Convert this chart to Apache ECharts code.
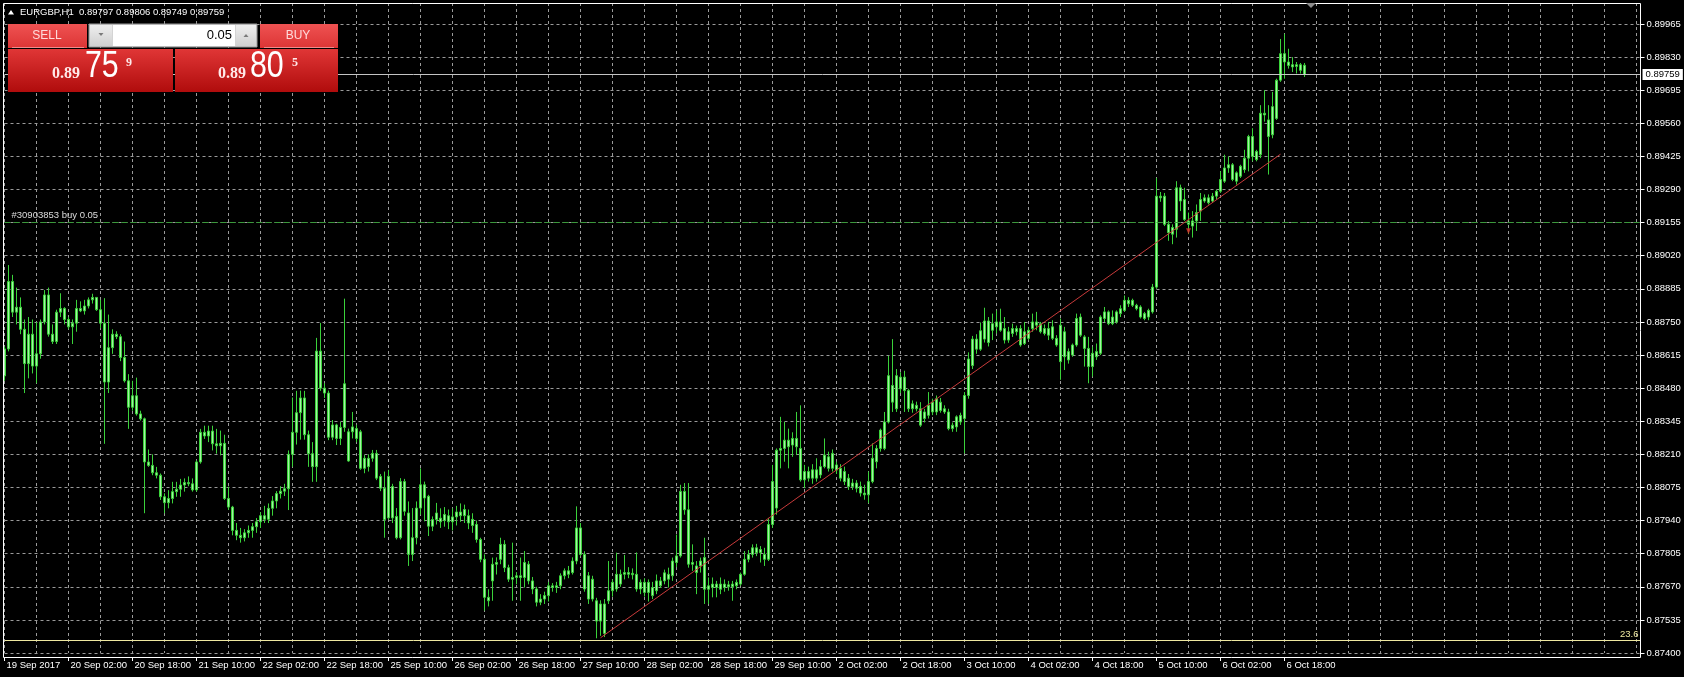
<!DOCTYPE html>
<html><head><meta charset="utf-8">
<script src="https://cdn.jsdelivr.net/npm/echarts@6/dist/echarts.min.js"></script>
<style>html,body{margin:0;padding:0;background:#000;}#chart{width:1684px;height:677px;}</style>
</head><body><div id="chart"></div>
<script>
// ---- EURGBP H1 bars, one array per trading day: [open, close, low, high] ----
const sep19 = [
[0.88530,0.88640,0.88510,0.88650],[0.88640,0.88915,0.88630,0.88982],[0.88915,0.88790,0.88770,0.88942],[0.88790,0.88810,0.88740,0.88890],
[0.88810,0.88720,0.88700,0.88850],[0.88720,0.88580,0.88460,0.88760],[0.88580,0.88700,0.88520,0.88770],[0.88700,0.88570,0.88540,0.88760],
[0.88570,0.88620,0.88500,0.88750],[0.88620,0.88750,0.88600,0.88760],[0.88750,0.88860,0.88740,0.88880],[0.88860,0.88700,0.88690,0.88890],
[0.88700,0.88670,0.88660,0.88740],[0.88670,0.88790,0.88660,0.88800]];
const sep20 = [
[0.88790,0.88805,0.88770,0.88867],[0.88805,0.88760,0.88740,0.88810],[0.88760,0.88730,0.88720,0.88770],[0.88730,0.88745,0.88660,0.88760],
[0.88745,0.88805,0.88710,0.88840],[0.88805,0.88795,0.88790,0.88834],[0.88795,0.88815,0.88780,0.88840],[0.88815,0.88840,0.88805,0.88850],
[0.88840,0.88850,0.88825,0.88865],[0.88850,0.88800,0.88795,0.88850],[0.88800,0.88745,0.88725,0.88840],[0.88745,0.88505,0.88253,0.88847],
[0.88505,0.88645,0.88460,0.88780],[0.88645,0.88700,0.88620,0.88720],[0.88700,0.88690,0.88680,0.88712],[0.88690,0.88605,0.88590,0.88700],
[0.88605,0.88510,0.88503,0.88670],[0.88510,0.88402,0.88314,0.88537],[0.88402,0.88449,0.88388,0.88510],[0.88449,0.88375,0.88368,0.88523],
[0.88375,0.88355,0.88348,0.88388],[0.88355,0.88179,0.87970,0.88360],[0.88179,0.88165,0.88159,0.88230],[0.88165,0.88135,0.88125,0.88210]];
const sep21 = [
[0.88135,0.88125,0.88112,0.88159],[0.88125,0.88037,0.88024,0.88132],[0.88037,0.88013,0.87970,0.88051],[0.88013,0.88030,0.87990,0.88064],
[0.88030,0.88058,0.88010,0.88098],[0.88058,0.88068,0.88037,0.88098],[0.88068,0.88085,0.88037,0.88110],[0.88085,0.88095,0.88058,0.88112],
[0.88095,0.88090,0.88080,0.88120],[0.88090,0.88065,0.88058,0.88112],[0.88065,0.88179,0.88058,0.88185],[0.88179,0.88300,0.88172,0.88314],
[0.88300,0.88285,0.88273,0.88327],[0.88285,0.88305,0.88260,0.88327],[0.88305,0.88253,0.88226,0.88327],[0.88253,0.88245,0.88213,0.88314],
[0.88245,0.88255,0.88206,0.88307],[0.88255,0.88030,0.88024,0.88290],[0.88030,0.87995,0.87983,0.88078],[0.87995,0.87900,0.87880,0.88000],
[0.87900,0.87880,0.87860,0.87930],[0.87880,0.87870,0.87850,0.87910],[0.87870,0.87890,0.87855,0.87905],[0.87890,0.87900,0.87870,0.87920]];
const sep22 = [
[0.87900,0.87915,0.87870,0.87930],[0.87915,0.87935,0.87890,0.87950],[0.87935,0.87960,0.87910,0.87975],[0.87960,0.87945,0.87930,0.88000],
[0.87945,0.87990,0.87930,0.88010],[0.87990,0.88020,0.87960,0.88040],[0.88020,0.88050,0.87990,0.88060],[0.88050,0.88060,0.88030,0.88080],
[0.88060,0.88070,0.88040,0.88090],[0.88070,0.88210,0.87983,0.88226],[0.88210,0.88300,0.88159,0.88442],[0.88300,0.88380,0.88250,0.88469],
[0.88380,0.88440,0.88270,0.88470],[0.88440,0.88290,0.88270,0.88469],[0.88290,0.88213,0.88159,0.88307],[0.88213,0.88160,0.88098,0.88260],
[0.88160,0.88631,0.88098,0.88685],[0.88631,0.88480,0.88469,0.88746],[0.88480,0.88460,0.88440,0.88500],[0.88460,0.88280,0.88268,0.88470],
[0.88280,0.88330,0.88268,0.88350],[0.88330,0.88275,0.88248,0.88335],[0.88275,0.88320,0.88248,0.88342],[0.88320,0.88498,0.88302,0.88845]];
const sep25 = [
[0.88302,0.88183,0.88180,0.88315],[0.88302,0.88322,0.88275,0.88383],[0.88315,0.88275,0.88260,0.88330],[0.88302,0.88153,0.88147,0.88310],
[0.88153,0.88194,0.88133,0.88207],[0.88194,0.88160,0.88140,0.88210],[0.88194,0.88214,0.88180,0.88228],[0.88214,0.88113,0.88105,0.88228],
[0.88120,0.88072,0.88060,0.88130],[0.88072,0.87944,0.87870,0.88140],[0.87951,0.88120,0.87944,0.88147],[0.88079,0.87951,0.87930,0.88090],
[0.87957,0.87870,0.87863,0.87991],[0.87870,0.88099,0.87863,0.88113],[0.88099,0.87978,0.87960,0.88110],[0.87971,0.87802,0.87755,0.88018],
[0.87802,0.87870,0.87775,0.87991],[0.87870,0.87991,0.87843,0.88018],[0.87991,0.88086,0.87964,0.88153],[0.88086,0.88032,0.87937,0.88099],
[0.88039,0.87917,0.87877,0.88045],[0.87917,0.87944,0.87897,0.87957],[0.87944,0.87971,0.87924,0.88012],[0.87950,0.87935,0.87910,0.87990]];
const sep26 = [
[0.87940,0.87965,0.87915,0.87995],[0.87960,0.87935,0.87905,0.87985],[0.87935,0.87955,0.87900,0.87990],[0.87955,0.87975,0.87920,0.88000],
[0.87975,0.87960,0.87935,0.88010],[0.87960,0.87985,0.87930,0.88005],[0.87960,0.87930,0.87905,0.87985],[0.87945,0.87920,0.87890,0.87970],
[0.87924,0.87863,0.87850,0.87940],[0.87863,0.87782,0.87770,0.87870],[0.87782,0.87627,0.87573,0.87802],[0.87627,0.87613,0.87590,0.87660],
[0.87694,0.87762,0.87613,0.87789],[0.87762,0.87769,0.87720,0.87790],[0.87782,0.87843,0.87762,0.87870],[0.87843,0.87748,0.87730,0.87860],
[0.87748,0.87701,0.87690,0.87760],[0.87701,0.87708,0.87613,0.87850],[0.87708,0.87715,0.87680,0.87730],[0.87715,0.87708,0.87613,0.87789],
[0.87708,0.87769,0.87667,0.87816],[0.87762,0.87694,0.87680,0.87775],[0.87694,0.87661,0.87640,0.87710],[0.87661,0.87607,0.87590,0.87670]];
const sep27 = [
[0.87607,0.87620,0.87595,0.87640],[0.87620,0.87634,0.87600,0.87650],[0.87634,0.87674,0.87610,0.87690],[0.87674,0.87667,0.87650,0.87685],
[0.87667,0.87674,0.87645,0.87690],[0.87674,0.87715,0.87660,0.87725],[0.87715,0.87735,0.87700,0.87745],[0.87735,0.87721,0.87705,0.87755],
[0.87728,0.87775,0.87720,0.87790],[0.87775,0.87910,0.87762,0.87998],[0.87910,0.87802,0.87795,0.87930],[0.87802,0.87661,0.87650,0.87815],
[0.87715,0.87620,0.87600,0.87730],[0.87620,0.87701,0.87610,0.87715],[0.87613,0.87530,0.87460,0.87625],[0.87530,0.87600,0.87470,0.87615],
[0.87600,0.87480,0.87465,0.87620],[0.87613,0.87654,0.87600,0.87775],[0.87654,0.87688,0.87630,0.87700],[0.87661,0.87721,0.87650,0.87809],
[0.87721,0.87681,0.87670,0.87740],[0.87721,0.87728,0.87700,0.87800],[0.87728,0.87721,0.87705,0.87750],[0.87719,0.87725,0.87700,0.87745]];
const sep28 = [
[0.87721,0.87661,0.87650,0.87810],[0.87661,0.87688,0.87640,0.87700],[0.87688,0.87647,0.87630,0.87705],[0.87647,0.87688,0.87610,0.87700],
[0.87667,0.87634,0.87620,0.87690],[0.87654,0.87694,0.87640,0.87720],[0.87694,0.87674,0.87665,0.87710],[0.87694,0.87727,0.87680,0.87740],
[0.87721,0.87701,0.87667,0.87748],[0.87715,0.87775,0.87694,0.87789],[0.87769,0.87796,0.87750,0.87883],[0.87796,0.88059,0.87789,0.88086],
[0.88059,0.87984,0.87964,0.88093],[0.87984,0.87762,0.87748,0.88093],[0.87762,0.87769,0.87735,0.87843],[0.87755,0.87728,0.87640,0.87775],
[0.87755,0.87775,0.87728,0.87789],[0.87789,0.87660,0.87600,0.87870],[0.87674,0.87660,0.87600,0.87708],[0.87681,0.87667,0.87627,0.87708],
[0.87667,0.87681,0.87627,0.87694],[0.87681,0.87660,0.87640,0.87708],[0.87667,0.87681,0.87650,0.87700],[0.87678,0.87670,0.87654,0.87694]];
const sep29 = [
[0.87670,0.87681,0.87613,0.87694],[0.87674,0.87688,0.87660,0.87700],[0.87681,0.87721,0.87674,0.87728],[0.87721,0.87782,0.87715,0.87816],
[0.87782,0.87802,0.87770,0.87820],[0.87802,0.87829,0.87789,0.87843],[0.87829,0.87809,0.87795,0.87845],[0.87809,0.87822,0.87769,0.87836],
[0.87802,0.87782,0.87755,0.87829],[0.87782,0.87924,0.87775,0.87951],[0.87924,0.88099,0.87910,0.88167],[0.87991,0.88227,0.87964,0.88234],
[0.88227,0.88234,0.88153,0.88363],[0.88234,0.88268,0.88180,0.88342],[0.88268,0.88241,0.88153,0.88315],[0.88248,0.88275,0.88200,0.88300],
[0.88275,0.88241,0.88207,0.88383],[0.88234,0.88106,0.88099,0.88410],[0.88106,0.88140,0.88072,0.88167],[0.88140,0.88113,0.88099,0.88160],
[0.88113,0.88147,0.88090,0.88170],[0.88147,0.88113,0.88099,0.88194],[0.88126,0.88160,0.88113,0.88187],[0.88160,0.88207,0.88153,0.88275]];
const oct02 = [
[0.88200,0.88153,0.88140,0.88221],[0.88153,0.88214,0.88140,0.88230],[0.88167,0.88146,0.88130,0.88180],[0.88153,0.88113,0.88100,0.88170],
[0.88140,0.88099,0.88085,0.88160],[0.88113,0.88079,0.88065,0.88130],[0.88079,0.88093,0.88065,0.88110],[0.88093,0.88072,0.88055,0.88105],
[0.88079,0.88052,0.88038,0.88099],[0.88052,0.88045,0.88025,0.88086],[0.88045,0.88099,0.88011,0.88140],[0.88099,0.88194,0.88092,0.88255],
[0.88180,0.88234,0.88153,0.88248],[0.88234,0.88309,0.88221,0.88315],[0.88234,0.88342,0.88227,0.88383],[0.88342,0.88531,0.88336,0.88612],
[0.88491,0.88423,0.88383,0.88680],[0.88396,0.88531,0.88383,0.88558],[0.88525,0.88477,0.88460,0.88545],[0.88470,0.88525,0.88383,0.88551],
[0.88470,0.88396,0.88383,0.88477],[0.88396,0.88416,0.88380,0.88430],[0.88410,0.88396,0.88385,0.88425],[0.88396,0.88329,0.88322,0.88423]];
const oct03 = [
[0.88356,0.88383,0.88340,0.88396],[0.88369,0.88410,0.88356,0.88464],[0.88383,0.88423,0.88370,0.88437],[0.88383,0.88437,0.88370,0.88450],
[0.88423,0.88389,0.88380,0.88440],[0.88396,0.88383,0.88375,0.88410],[0.88383,0.88315,0.88308,0.88396],[0.88315,0.88329,0.88302,0.88340],
[0.88322,0.88363,0.88302,0.88369],[0.88342,0.88369,0.88330,0.88380],[0.88356,0.88450,0.88214,0.88464],[0.88450,0.88599,0.88437,0.88626],
[0.88572,0.88680,0.88558,0.88693],[0.88680,0.88639,0.88620,0.88700],[0.88639,0.88714,0.88632,0.88748],[0.88680,0.88754,0.88666,0.88808],
[0.88754,0.88666,0.88650,0.88770],[0.88716,0.88743,0.88676,0.88784],[0.88730,0.88750,0.88703,0.88797],[0.88750,0.88716,0.88710,0.88804],
[0.88723,0.88676,0.88662,0.88770],[0.88676,0.88710,0.88665,0.88730],[0.88703,0.88723,0.88689,0.88743],[0.88723,0.88710,0.88695,0.88735]];
const oct04 = [
[0.88723,0.88656,0.88649,0.88737],[0.88662,0.88710,0.88656,0.88750],[0.88716,0.88683,0.88676,0.88730],[0.88723,0.88750,0.88710,0.88784],
[0.88750,0.88737,0.88716,0.88791],[0.88743,0.88710,0.88703,0.88750],[0.88723,0.88703,0.88695,0.88740],[0.88696,0.88723,0.88676,0.88750],
[0.88730,0.88683,0.88676,0.88757],[0.88683,0.88656,0.88649,0.88696],[0.88737,0.88588,0.88514,0.88764],[0.88608,0.88710,0.88554,0.88730],
[0.88629,0.88595,0.88580,0.88642],[0.88615,0.88656,0.88608,0.88662],[0.88656,0.88764,0.88649,0.88784],[0.88770,0.88696,0.88689,0.88784],
[0.88689,0.88642,0.88568,0.88696],[0.88642,0.88568,0.88500,0.88689],[0.88568,0.88622,0.88527,0.88649],[0.88608,0.88629,0.88595,0.88662],
[0.88622,0.88770,0.88615,0.88777],[0.88764,0.88791,0.88750,0.88811],[0.88791,0.88743,0.88737,0.88797],[0.88743,0.88770,0.88737,0.88797]];
const oct05 = [
[0.88750,0.88791,0.88743,0.88797],[0.88784,0.88804,0.88770,0.88818],[0.88797,0.88838,0.88791,0.88858],[0.88838,0.88824,0.88811,0.88851],
[0.88818,0.88838,0.88811,0.88845],[0.88818,0.88804,0.88797,0.88824],[0.88811,0.88770,0.88764,0.88818],[0.88764,0.88784,0.88757,0.88791],
[0.88770,0.88797,0.88757,0.88804],[0.88791,0.88892,0.88784,0.88905],[0.88892,0.89263,0.88885,0.89337],[0.89263,0.89256,0.89240,0.89280],
[0.89263,0.89148,0.89141,0.89276],[0.89148,0.89114,0.89081,0.89162],[0.89135,0.89108,0.89067,0.89148],[0.89128,0.89297,0.89094,0.89324],
[0.89297,0.89243,0.89202,0.89310],[0.89249,0.89168,0.89162,0.89297],[0.89162,0.89148,0.89108,0.89196],[0.89141,0.89162,0.89094,0.89202],
[0.89162,0.89196,0.89121,0.89229],[0.89202,0.89249,0.89162,0.89276],[0.89243,0.89256,0.89236,0.89270],[0.89256,0.89236,0.89229,0.89270]];
const oct06 = [
[0.89243,0.89263,0.89236,0.89276],[0.89263,0.89283,0.89249,0.89290],[0.89283,0.89331,0.89276,0.89364],[0.89324,0.89378,0.89317,0.89432],
[0.89378,0.89391,0.89358,0.89425],[0.89391,0.89331,0.89324,0.89398],[0.89324,0.89358,0.89310,0.89364],[0.89344,0.89385,0.89337,0.89391],
[0.89371,0.89418,0.89358,0.89452],[0.89418,0.89506,0.89364,0.89513],[0.89506,0.89425,0.89405,0.89540],[0.89412,0.89445,0.89405,0.89452],
[0.89432,0.89601,0.89418,0.89634],[0.89601,0.89594,0.89567,0.89695],[0.89574,0.89506,0.89351,0.89634],[0.89513,0.89628,0.89499,0.89688],
[0.89580,0.89736,0.89574,0.89742],[0.89736,0.89844,0.89729,0.89904],[0.89844,0.89810,0.89742,0.89925],[0.89810,0.89796,0.89783,0.89864],
[0.89799,0.89790,0.89769,0.89830],[0.89792,0.89799,0.89763,0.89810],[0.89799,0.89776,0.89763,0.89806],[0.89797,0.89759,0.89749,0.89806]];

const dayNames = ['19 Sep','20 Sep','21 Sep','22 Sep','25 Sep','26 Sep','27 Sep','28 Sep','29 Sep','2 Oct','3 Oct','4 Oct','5 Oct','6 Oct'];
const dayFirstHour = [10,0,0,0,0,0,0,0,0,0,0,0,0,0];
const dayBars = [sep19,sep20,sep21,sep22,sep25,sep26,sep27,sep28,sep29,oct02,oct03,oct04,oct05,oct06];

const xTickLabels = ['19 Sep 2017','20 Sep 02:00','20 Sep 18:00','21 Sep 10:00','22 Sep 02:00','22 Sep 18:00',
 '25 Sep 10:00','26 Sep 02:00','26 Sep 18:00','27 Sep 10:00','28 Sep 02:00','28 Sep 18:00','29 Sep 10:00',
 '2 Oct 02:00','2 Oct 18:00','3 Oct 10:00','4 Oct 02:00','4 Oct 18:00','5 Oct 10:00','6 Oct 02:00','6 Oct 18:00'];
const barsPerTick = 16;
const barsPerGrid = 8;
const emptySlots = 84;           // chart shift area on the right

// price scale
const yMin = 0.87400, yStep = 0.00135, yMax = 0.900506;

// levels / objects
const symbolTitle = 'EURGBP,H1';
const lastOHLC = [0.89797, 0.89806, 0.89749, 0.89759];
const bidPrice = 0.89759;
const orderPrice = 0.89155, orderText = '#30903853 buy 0.05';
const fiboLevel = 0.87453, fiboText = '23.6';
const trendStart = [149, 0.87462], trendEnd = [319, 0.89434];
const orderArrow = [296, 0.89120];
const lotSize = '0.05';
const sellQuote = ['0.89', '75', '9'];
const buyQuote = ['0.89', '80', '5'];

// ---- build ----
const bars = [], slots = [];
dayBars.forEach((rows, d) => rows.forEach((r, k) => {
  bars.push(r);
  slots.push(dayNames[d] + ' ' + String(dayFirstHour[d] + k).padStart(2, '0') + ':00');
}));
for (let k = 1; k <= emptySlots; k++) slots.push('+' + k);

const tickShow = (i) => i % barsPerTick === 0 && i / barsPerTick < xTickLabels.length;
const FONT = 'Liberation Sans';
const grad = (a, b) => new echarts.graphic.LinearGradient(0, 0, 0, 1, [{offset: 0, color: a}, {offset: 1, color: b}]);

const chart = echarts.init(document.getElementById('chart'), null, {renderer: 'canvas'});
chart.setOption({
  backgroundColor: '#000000',
  animation: false,
  grid: {left: 4.5, right: 43.5, top: 3, bottom: 24, containLabel: false},
  xAxis: {
    type: 'category', data: slots, boundaryGap: false, offset: 4,
    axisLine: {show: false},
    axisTick: {show: true, length: 4, interval: tickShow, lineStyle: {color: '#ffffff'}},
    axisLabel: {show: true, interval: tickShow, formatter: (v, i) => xTickLabels[i / barsPerTick],
      align: 'left', color: '#ffffff', fontSize: 9.5, fontFamily: FONT, margin: 3, padding: [0, 0, 0, 2]},
    splitLine: {show: true, interval: (i) => i % barsPerGrid === 0, lineStyle: {color: '#9a9a9a', width: 1, type: [3, 3]}}
  },
  yAxis: {
    type: 'value', position: 'right', min: yMin, max: yMax, interval: yStep, scale: true,
    axisLine: {show: false},
    axisTick: {show: true, length: 4, lineStyle: {color: '#ffffff'}},
    axisLabel: {color: '#ffffff', fontSize: 9.5, fontFamily: FONT, margin: 6, showMaxLabel: false,
      formatter: (v) => v.toFixed(5)},
    splitLine: {show: true, lineStyle: {color: '#9a9a9a', width: 1, type: [3, 3]}}
  },
  series: [{
    type: 'candlestick', name: symbolTitle, data: bars, barWidth: 2, clip: false,
    itemStyle: {color: '#a6f2a6', color0: '#a6f2a6', borderColor: '#3ad23a', borderColor0: '#3ad23a', borderWidth: 1},
    emphasis: {disabled: true},
    markLine: {
      silent: true, symbol: ['none', 'none'], animation: false, precision: 5, emphasis: {disabled: true},
      data: [
        {yAxis: fiboLevel, lineStyle: {color: '#eee8a0', width: 1, type: 'solid'},
         label: {show: true, position: 'insideEndTop', formatter: fiboText, color: '#eee8a0', fontSize: 9.5, fontFamily: FONT, distance: [2, 1]}},
        {yAxis: orderPrice, lineStyle: {color: '#3a9a3a', width: 1, type: [6, 3]},
         label: {show: true, position: 'insideStartTop', formatter: orderText, color: '#dcdcdc', fontSize: 9.5, fontFamily: FONT, distance: [7, 2]}},
        {yAxis: bidPrice, lineStyle: {color: '#c4c4c4', width: 1, type: 'solid'},
         label: {show: true, position: 'end', formatter: bidPrice.toFixed(5), color: '#000000', backgroundColor: '#ffffff',
           padding: [1, 3, 0, 3], fontSize: 9.5, fontFamily: FONT, distance: 2}},
        [{coord: trendStart, lineStyle: {color: '#c83a3a', width: 1, type: 'solid'}, label: {show: false}}, {coord: trendEnd}]
      ]
    }
  }, {
    type: 'scatter', data: [orderArrow], symbol: 'triangle', symbolSize: [5, 6], symbolRotate: 180,
    itemStyle: {color: '#e03030'}, silent: true
  }],
  graphic: [
    {type: 'rect', silent: true, z: 100, shape: {x: 3.5, y: 3.5, width: 1637, height: 654}, style: {fill: null, stroke: '#ffffff', lineWidth: 1}},
    {type: 'polygon', silent: true, z: 100, shape: {points: [[1306, 3], [1316, 3], [1311, 8]]}, style: {fill: '#8c8c8c'}},
    // header
    {type: 'polygon', silent: true, z: 100, shape: {points: [[8, 14.5], [14, 14.5], [11, 10]]}, style: {fill: '#ffffff'}},
    {type: 'text', silent: true, z: 100, x: 20, y: 12, style: {text: symbolTitle + '  ' + lastOHLC.map(v => v.toFixed(5)).join(' '),
      fill: '#ffffff', font: '9.5px "Liberation Sans"', textAlign: 'left', textVerticalAlign: 'middle', align: 'left', verticalAlign: 'middle'}},
    // one-click trading panel
    {type: 'rect', silent: true, z: 100, shape: {x: 8, y: 24, width: 79, height: 24}, style: {fill: grad('#ef5252', '#dc3535')}},
    {type: 'rect', silent: true, z: 100, shape: {x: 260, y: 24, width: 78, height: 24}, style: {fill: grad('#ef5252', '#dc3535')}},
    {type: 'rect', silent: true, z: 100, shape: {x: 12, y: 47, width: 72, height: 1}, style: {fill: '#f38a8a'}},
    {type: 'rect', silent: true, z: 100, shape: {x: 264, y: 47, width: 70, height: 1}, style: {fill: '#f38a8a'}},
    {type: 'rect', silent: true, z: 100, shape: {x: 8, y: 49, width: 165, height: 43}, style: {fill: grad('#e03636', '#b00c0c')}},
    {type: 'rect', silent: true, z: 100, shape: {x: 175, y: 49, width: 163, height: 43}, style: {fill: grad('#e03636', '#b00c0c')}},
    {type: 'rect', silent: true, z: 100, shape: {x: 89, y: 24, width: 168, height: 23}, style: {fill: '#d4d4d4', stroke: '#9a9a9a', lineWidth: 1}},
    {type: 'rect', silent: true, z: 100, shape: {x: 90, y: 25, width: 22, height: 21}, style: {fill: grad('#eeeeee', '#d0d0d0')}},
    {type: 'rect', silent: true, z: 100, shape: {x: 113, y: 25, width: 122, height: 21}, style: {fill: '#ffffff'}},
    {type: 'rect', silent: true, z: 100, shape: {x: 236, y: 25, width: 20, height: 21}, style: {fill: grad('#eeeeee', '#d0d0d0')}},
    {type: 'polygon', silent: true, z: 100, shape: {points: [[98.5, 33], [103.5, 33], [101, 36]]}, style: {fill: '#7a7a7a'}},
    {type: 'polygon', silent: true, z: 100, shape: {points: [[243.5, 37], [248.5, 37], [246, 34]]}, style: {fill: '#7a7a7a'}},
    {type: 'text', silent: true, z: 101, x: 232, y: 35, style: {text: lotSize, fill: '#000000', font: '13px "Liberation Sans"',
      textAlign: 'right', textVerticalAlign: 'middle', align: 'right', verticalAlign: 'middle'}},
    {type: 'text', silent: true, z: 101, x: 47, y: 35.5, style: {text: 'SELL', fill: '#ffdada', font: '12px "Liberation Sans"',
      textAlign: 'center', textVerticalAlign: 'middle', align: 'center', verticalAlign: 'middle'}},
    {type: 'text', silent: true, z: 101, x: 298, y: 35.5, style: {text: 'BUY', fill: '#ffdada', font: '12px "Liberation Sans"',
      textAlign: 'center', textVerticalAlign: 'middle', align: 'center', verticalAlign: 'middle'}},
    {type: 'text', silent: true, z: 101, x: 52, y: 74, style: {text: sellQuote[0], fill: '#ffeaea', font: 'bold 16px "Liberation Serif"',
      textAlign: 'left', textVerticalAlign: 'middle', align: 'left', verticalAlign: 'middle'}},
    {type: 'text', silent: true, z: 101, x: 85, y: 67, scaleX: 0.82, style: {text: sellQuote[1], fill: '#ffffff', font: '37px "Liberation Sans"',
      textAlign: 'left', textVerticalAlign: 'middle', align: 'left', verticalAlign: 'middle'}},
    {type: 'text', silent: true, z: 101, x: 126, y: 63, style: {text: sellQuote[2], fill: '#ffeaea', font: 'bold 12px "Liberation Serif"',
      textAlign: 'left', textVerticalAlign: 'middle', align: 'left', verticalAlign: 'middle'}},
    {type: 'text', silent: true, z: 101, x: 218, y: 74, style: {text: buyQuote[0], fill: '#ffeaea', font: 'bold 16px "Liberation Serif"',
      textAlign: 'left', textVerticalAlign: 'middle', align: 'left', verticalAlign: 'middle'}},
    {type: 'text', silent: true, z: 101, x: 250, y: 67, scaleX: 0.82, style: {text: buyQuote[1], fill: '#ffffff', font: '37px "Liberation Sans"',
      textAlign: 'left', textVerticalAlign: 'middle', align: 'left', verticalAlign: 'middle'}},
    {type: 'text', silent: true, z: 101, x: 292, y: 63, style: {text: buyQuote[2], fill: '#ffeaea', font: 'bold 12px "Liberation Serif"',
      textAlign: 'left', textVerticalAlign: 'middle', align: 'left', verticalAlign: 'middle'}}
  ]
});
</script></body></html>
